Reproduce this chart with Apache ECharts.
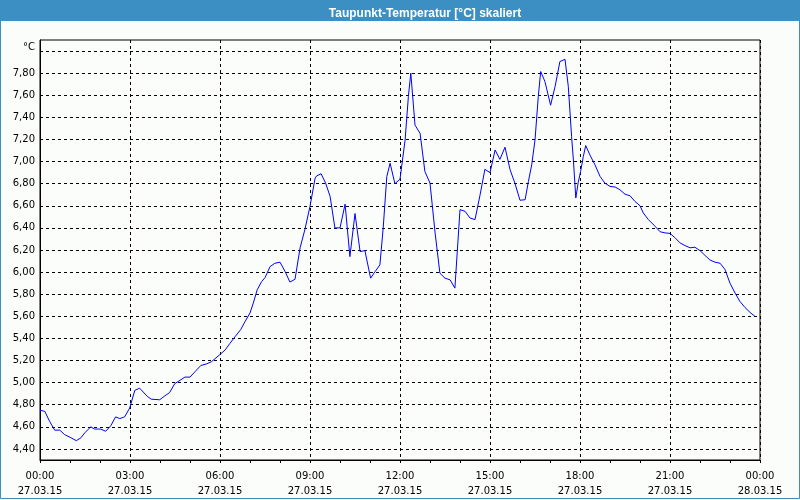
<!DOCTYPE html>
<html>
<head>
<meta charset="utf-8">
<script src="https://cdn.jsdelivr.net/npm/echarts@6/dist/echarts.min.js"></script>
<style>
html,body{margin:0;padding:0;background:#fbfdfb;}
#chart{width:800px;height:500px;}
</style>
</head>
<body>
<div id="chart"></div>
<script>
// Time in hours since 27.03.15 00:00
const times = [
  0.00,0.16,0.32,0.49,0.66,0.82,1.04,1.21,1.36,1.49,1.69,1.82,2.02,2.19,2.36,2.52,2.66,2.82,2.99,3.16,
  3.32,3.58,3.71,3.99,4.16,4.32,4.49,4.83,5.00,5.17,5.36,5.56,5.72,5.98,6.17,6.33,6.50,6.69,6.83,7.00,
  7.11,7.24,7.39,7.50,7.67,7.83,8.00,8.17,8.33,8.50,8.67,8.83,9.00,9.17,9.22,9.37,9.52,9.67,9.83,10.00,
  10.17,10.33,10.50,10.67,10.83,11.02,11.17,11.33,11.44,11.56,11.67,11.83,12.00,12.17,12.28,12.36,12.50,12.67,12.83,13.00,
  13.17,13.33,13.50,13.67,13.83,14.00,14.17,14.33,14.50,14.67,14.83,15.00,15.17,15.33,15.50,15.67,15.83,16.00,16.17,16.28,
  16.39,16.50,16.61,16.69,16.83,17.02,17.17,17.33,17.50,17.61,17.72,17.78,17.86,17.94,18.02,18.11,18.19,18.33,18.50,18.67,
  18.83,19.00,19.17,19.33,19.50,19.67,19.83,20.00,20.11,20.28,20.50,20.67,20.83,21.00,21.17,21.33,21.50,21.67,21.83,22.00,
  22.17,22.33,22.50,22.67,22.83,23.00,23.17,23.33,23.50,23.67,23.83
];
// Dew point temperature in °C
const values = [
  4.75,4.74,4.65,4.57,4.57,4.53,4.50,4.475,4.50,4.545,4.60,4.58,4.58,4.56,4.61,4.69,4.675,4.69,4.77,4.93,
  4.95,4.875,4.85,4.845,4.88,4.91,4.99,5.05,5.05,5.10,5.155,5.17,5.19,5.25,5.295,5.355,5.415,5.48,5.55,5.63,
  5.72,5.84,5.915,5.95,6.05,6.08,6.09,6.005,5.91,5.935,6.22,6.385,6.595,6.85,6.87,6.89,6.805,6.685,6.40,6.40,
  6.615,6.14,6.53,6.185,6.195,5.945,6.005,6.065,6.40,6.865,6.985,6.80,6.84,7.195,7.59,7.80,7.33,7.255,6.91,6.805,
  6.355,5.99,5.945,5.93,5.855,6.565,6.55,6.49,6.475,6.70,6.93,6.90,7.105,7.02,7.13,6.925,6.805,6.65,6.655,6.82,
  6.97,7.195,7.59,7.815,7.725,7.51,7.68,7.905,7.925,7.68,7.225,7.015,6.67,6.81,6.91,7.045,7.145,7.06,6.97,6.865,
  6.805,6.775,6.77,6.745,6.705,6.69,6.64,6.60,6.535,6.475,6.415,6.365,6.355,6.35,6.31,6.265,6.24,6.22,6.225,6.195,
  6.15,6.11,6.09,6.08,6.025,5.90,5.81,5.735,5.68,5.635,5.60
];
const xTickHours = [0,3,6,9,12,15,18,21,24];
const xTimeLabels = ['00:00','03:00','06:00','09:00','12:00','15:00','18:00','21:00','00:00'];
const xDateLabels = ['27.03.15','27.03.15','27.03.15','27.03.15','27.03.15','27.03.15','27.03.15','27.03.15','28.03.15'];
const yTicks = [4.4,4.6,4.8,5.0,5.2,5.4,5.6,5.8,6.0,6.2,6.4,6.6,6.8,7.0,7.2,7.4,7.6,7.8,8.0];
const yUnit = '°C';
const titleText = 'Taupunkt-Temperatur [°C] skaliert';

const chart = echarts.init(document.getElementById('chart'), null, {renderer: 'canvas'});
const font = 'DejaVu Sans';
const option = {
  animation: false,
  backgroundColor: '#fbfdfb',
  title: {
    text: titleText,
    left: 420,
    top: 3,
    textAlign: 'center',
    textStyle: {color: '#ffffff', fontFamily: 'Liberation Sans', fontWeight: 'bold', fontSize: 12}
  },
  graphic: [
    {type: 'rect', z: -1, shape: {x: 0, y: 0, width: 800, height: 21}, style: {fill: '#3b8fc3'}, silent: true},
    {type: 'rect', z: -1, shape: {x: 0.5, y: 0.5, width: 799, height: 498}, style: {fill: null, stroke: '#3b8fc3', lineWidth: 1}, silent: true}
  ],
  grid: {left: 40, top: 40, right: 40, bottom: 40, show: true, borderColor: '#000', borderWidth: 1, backgroundColor: 'transparent'},
  xAxis: {
    type: 'value', min: 0, max: 24, interval: 3,
    axisLine: {show: true, lineStyle: {color: '#000', width: 1}},
    axisTick: {show: true, length: 3, lineStyle: {color: '#000'}},
    minorTick: {show: true, splitNumber: 3, length: 3, lineStyle: {color: '#000'}},
    splitLine: {show: true, lineStyle: {color: '#000', type: [3, 3], width: 1}},
    axisLabel: {
      color: '#000', fontFamily: font, fontSize: 10, margin: 9, lineHeight: 15,
      formatter: function (v) {
        const i = xTickHours.indexOf(Math.round(v));
        return i < 0 ? '' : xTimeLabels[i] + '\n' + xDateLabels[i];
      }
    }
  },
  yAxis: {
    type: 'value', min: 4.3, max: 8.1,
    axisLine: {show: true, lineStyle: {color: '#000', width: 1}},
    axisTick: {show: false, customValues: yTicks},
    splitLine: {show: true, lineStyle: {color: '#000', type: [3, 3], width: 1}},
    axisLabel: {
      customValues: yTicks,
      color: '#000', fontFamily: font, fontSize: 10, margin: 5,
      formatter: function (v) {
        if (Math.abs(v - 8.0) < 1e-6) return '{u|' + yUnit + '}';
        return v.toFixed(2).replace('.', ',');
      },
      rich: {u: {color: '#000', fontFamily: font, fontSize: 10, padding: [0, 0, 8, 0]}}
    }
  },
  series: [{
    type: 'line',
    data: times.map((t, i) => [t, values[i]]),
    showSymbol: false,
    symbol: 'none',
    lineStyle: {color: '#0000ff', width: 1},
    itemStyle: {color: '#0000ff'}
  }]
};
chart.setOption(option);
</script>
</body>
</html>
